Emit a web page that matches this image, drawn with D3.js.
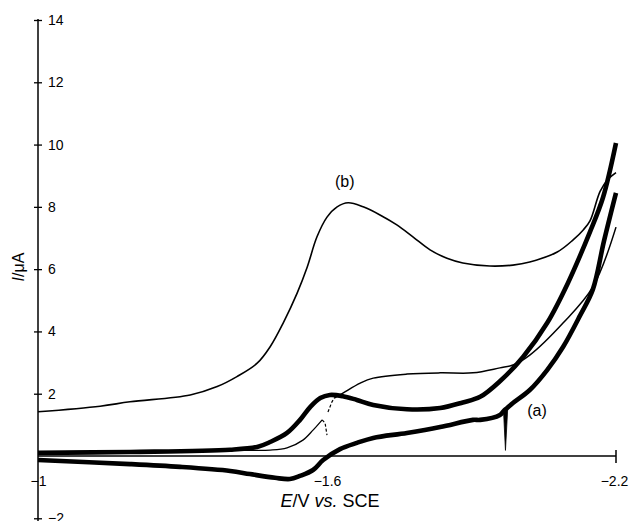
<!DOCTYPE html>
<html>
<head>
    <meta charset="utf-8">
    <script src="https://d3js.org/d3.v7.min.js"></script>
    <style>
        body { margin: 0; background: #ffffff; font-family: 'Liberation Sans', Arial, sans-serif; }
    </style>
</head>
<body>
    <svg id="cv" width="629" height="521"></svg>
    <script>
        // potentials in V vs SCE, currents in uA
        var curveB = [
            [-1.000, 1.42], [-1.129, 1.60], [-1.191, 1.74], [-1.316, 1.96], [-1.372, 2.23],
            [-1.413, 2.55], [-1.455, 2.98], [-1.482, 3.51], [-1.509, 4.27], [-1.538, 5.23],
            [-1.559, 6.07], [-1.579, 7.03], [-1.600, 7.67], [-1.621, 8.00], [-1.644, 8.13],
            [-1.675, 8.00], [-1.710, 7.74], [-1.745, 7.42], [-1.779, 7.03], [-1.814, 6.62],
            [-1.849, 6.35], [-1.882, 6.20], [-1.938, 6.10], [-1.986, 6.13], [-2.021, 6.23],
            [-2.078, 6.55], [-2.111, 6.94], [-2.132, 7.26], [-2.146, 7.55], [-2.167, 8.50],
            [-2.183, 8.88], [-2.200, 9.10]
        ];
        var curveAForward = [
            [-1.000, 0.10], [-1.191, 0.13], [-1.399, 0.20], [-1.455, 0.29], [-1.482, 0.45],
            [-1.517, 0.74], [-1.544, 1.16], [-1.565, 1.57], [-1.586, 1.86], [-1.606, 1.96],
            [-1.633, 1.92], [-1.662, 1.80], [-1.696, 1.64], [-1.766, 1.50], [-1.835, 1.54],
            [-1.882, 1.72], [-1.918, 1.90], [-1.959, 2.40], [-2.007, 3.18], [-2.057, 4.27],
            [-2.100, 5.55], [-2.146, 7.20], [-2.173, 8.30], [-2.200, 10.05]
        ];
        var curveAReverse = [
            [-2.200, 8.45], [-2.175, 6.90], [-2.152, 5.35], [-2.125, 4.50], [-2.090, 3.50],
            [-2.057, 2.76], [-2.021, 2.12], [-1.986, 1.70], [-1.974, 1.54], [-1.967, 1.45],
            [-1.959, 1.32], [-1.918, 1.16], [-1.903, 1.16], [-1.835, 0.93],
            [-1.766, 0.74], [-1.696, 0.58], [-1.662, 0.42], [-1.627, 0.22], [-1.592, -0.13],
            [-1.571, -0.45], [-1.544, -0.64], [-1.523, -0.74], [-1.492, -0.70], [-1.440, -0.58],
            [-1.399, -0.48], [-1.295, -0.35], [-1.191, -0.26], [-1.000, -0.13]
        ];
        var spikeA = [[-1.9755, 1.62], [-1.9705, 0.18], [-1.9665, 1.45]];
        var curveCLow = [
            [-1.000, 0.13], [-1.399, 0.19], [-1.482, 0.19], [-1.517, 0.26], [-1.550, 0.51],
            [-1.571, 0.83], [-1.590, 1.16]
        ];
        var curveCBreak1 = [[-1.590, 1.16], [-1.596, 1.06], [-1.600, 0.67]];
        var curveCBreak2 = [[-1.602, 1.41], [-1.610, 1.73], [-1.615, 1.86]];
        var curveCHigh = [
            [-1.615, 1.86], [-1.633, 2.02], [-1.669, 2.34], [-1.696, 2.50], [-1.766, 2.63],
            [-1.835, 2.67], [-1.903, 2.67], [-1.959, 2.83], [-1.986, 2.92], [-2.021, 3.24],
            [-2.090, 4.27], [-2.152, 5.43], [-2.200, 7.35]
        ];

        var yTicks = [14, 12, 10, 8, 6, 4, 2, -2];
        var xTicks = [-1, -1.6, -2.2];
        var xTickLabels = ["\u22121", "\u22121.6", "\u22122.2"];
        var curveLabels = [["(b)", -1.637, 8.64], ["(a)", -2.036, 1.28]];

        var svg = d3.select("#cv");
        var x = d3.scaleLinear().domain([-1, -2.2]).range([38, 616]);
        var y = d3.scaleLinear().domain([14, 0]).range([20, 456]);

        // y axis
        var yAxis = svg.append("g")
            .attr("transform", "translate(" + x(-1) + ",0)")
            .call(d3.axisRight(y).tickValues(yTicks).tickSize(4).tickPadding(6)
                .tickFormat(function (d) { return d < 0 ? "\u2212" + Math.abs(d) : d; }));
        yAxis.select(".domain").remove();
        yAxis.selectAll(".tick line").attr("x1", -4).attr("stroke", "#000").attr("stroke-width", 1.3);
        yAxis.selectAll(".tick text").attr("font-size", 14).attr("font-family", "Liberation Sans, Arial, sans-serif").attr("fill", "#000");
        svg.append("line")
            .attr("x1", x(-1)).attr("x2", x(-1))
            .attr("y1", y(14) - 1).attr("y2", 521)
            .attr("stroke", "#000").attr("stroke-width", 1.5);

        // x axis
        var xAxis = svg.append("g")
            .attr("transform", "translate(0," + y(0) + ")")
            .call(d3.axisBottom(x).tickValues(xTicks).tickSize(0).tickPadding(20)
                .tickFormat(function (d, i) { return xTickLabels[i]; }));
        xAxis.select(".domain").remove();
        xAxis.selectAll(".tick text").attr("font-size", 14).attr("font-family", "Liberation Sans, Arial, sans-serif").attr("fill", "#000");
        xAxis.selectAll(".tick").filter(function (d) { return d === -2.2; })
            .select("text").attr("dx", -2);
        svg.append("line")
            .attr("x1", x(-1)).attr("x2", x(-2.2))
            .attr("y1", y(0)).attr("y2", y(0))
            .attr("stroke", "#000").attr("stroke-width", 1.5);
        svg.append("line")
            .attr("x1", x(-2.2)).attr("x2", x(-2.2))
            .attr("y1", y(0) - 6).attr("y2", y(0) + 7)
            .attr("stroke", "#000").attr("stroke-width", 1.5);

        var line = d3.line()
            .x(function (d) { return x(d[0]); })
            .y(function (d) { return y(d[1]); })
            .curve(d3.curveCatmullRom.alpha(0.5));
        var straight = d3.line()
            .x(function (d) { return x(d[0]); })
            .y(function (d) { return y(d[1]); });

        function draw(data, width, gen, dash) {
            svg.append("path")
                .datum(data)
                .attr("fill", "none")
                .attr("stroke", "#000")
                .attr("stroke-width", width)
                .attr("stroke-linejoin", "round")
                .attr("stroke-dasharray", dash || null)
                .attr("d", gen);
        }

        draw(curveB, 1.6, line);
        draw(curveCLow, 1.3, line);
        draw(curveCBreak1, 1.2, straight, "3,2");
        draw(curveCBreak2, 1.2, straight, "3,2");
        draw(curveCHigh, 1.5, line);
        draw(curveAForward, 4.6, line);
        draw(curveAReverse, 4.6, line);

        // sharp spike on the return scan
        svg.append("path")
            .datum(spikeA)
            .attr("fill", "#000")
            .attr("stroke", "#000")
            .attr("stroke-width", 0.8)
            .attr("d", straight);

        svg.selectAll(".clabel")
            .data(curveLabels)
            .enter().append("text")
            .attr("class", "clabel")
            .attr("x", function (d) { return x(d[1]); })
            .attr("y", function (d) { return y(d[2]); })
            .attr("text-anchor", "middle")
            .attr("font-size", 16)
            .text(function (d) { return d[0]; });

        // axis titles
        var xt = svg.append("text")
            .attr("x", 330).attr("y", 507)
            .attr("text-anchor", "middle")
            .attr("font-size", 18);
        xt.append("tspan").attr("font-style", "italic").text("E");
        xt.append("tspan").text("/V ");
        xt.append("tspan").attr("font-style", "italic").text("vs.");
        xt.append("tspan").text(" SCE");

        var yt = svg.append("text")
            .attr("transform", "translate(24,267) rotate(-90)")
            .attr("text-anchor", "middle")
            .attr("font-size", 16);
        yt.append("tspan").attr("font-style", "italic").text("I");
        yt.append("tspan").text("/\u03bcA");
    </script>
</body>
</html>
